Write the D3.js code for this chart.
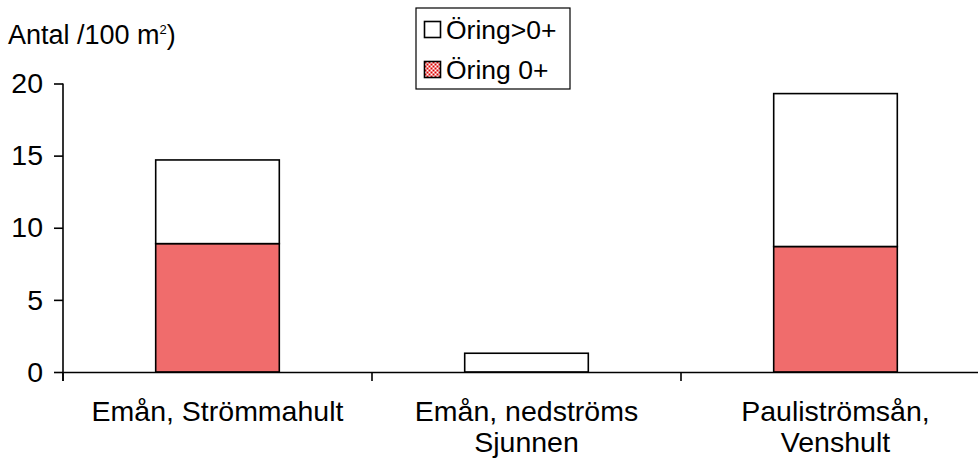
<!DOCTYPE html>
<html><head><meta charset="utf-8">
<script src="https://cdn.jsdelivr.net/npm/d3@7"></script>
<style>
html,body{margin:0;padding:0;background:#fff;}
svg{display:block;font-family:"Liberation Sans",Arial,sans-serif;}
</style></head>
<body><svg id="c" width="978" height="459"></svg>
<script>
const categories = [["Emån, Strömmahult"], ["Emån, nedströms", "Sjunnen"], ["Pauliströmsån,", "Venshult"]];
const catKeys = ["A", "B", "C"];
const seriesNames = ["Öring 0+", "Öring>0+"];
const young = [8.9, 0, 8.7];      // Öring 0+
const older = [5.8, 1.3, 10.6];   // Öring>0+ (stacked on top)
const yTicks = [0, 5, 10, 15, 20];
const yLabel = "Antal /100 m";

const svg = d3.select("#c");
const fs = 28.5;
const lfs = 26.5;
const x = d3.scaleBand().domain(catKeys).range([63, 990]).paddingInner(0).paddingOuter(0);
const y = d3.scaleLinear().domain([0, 20]).range([372, 83.5]);

const data = catKeys.map((k,i)=>({key:k, a:young[i], b:older[i]}));
const stack = d3.stack().keys(["a","b"])(data);
const bw = x.bandwidth()*0.4;
const fills = ["#f06c6c", "#ffffff"];

stack.forEach((layer, li) => {
  svg.append("g").selectAll("rect").data(layer.filter(d=>d[1]-d[0]>0)).join("rect")
    .attr("x", d => x(d.data.key) + (x.bandwidth()-bw)/2)
    .attr("y", d => y(d[1]))
    .attr("width", bw)
    .attr("height", d => y(d[0]) - y(d[1]))
    .attr("fill", fills[li])
    .attr("stroke", "#000").attr("stroke-width", 1.6);
});

// Y axis
const ya = svg.append("g").attr("transform","translate(63,0)")
  .call(d3.axisLeft(y).tickValues(yTicks).tickSize(9).tickPadding(11).tickSizeOuter(0));
ya.select(".domain").attr("stroke","#000").attr("stroke-width",1.6).attr("d","M0,381V83.5");
ya.selectAll(".tick line").attr("stroke","#000").attr("stroke-width",1.6);
ya.selectAll(".tick text").attr("font-size",fs).attr("font-family","Liberation Sans, Arial, sans-serif").attr("fill","#000");

// X axis
const xa = svg.append("g").attr("transform","translate(0,372)")
  .call(d3.axisBottom(x).tickSize(0).tickFormat(""));
xa.select(".domain").attr("stroke","#000").attr("stroke-width",1.6);
xa.selectAll(".tick").remove();
const bounds = [63, ...catKeys.map(k=>x(k)+x.bandwidth())];
xa.selectAll("line.sep").data(bounds).join("line").attr("class","sep")
  .attr("x1",d=>d).attr("x2",d=>d).attr("y1",0).attr("y2",9)
  .attr("stroke","#000").attr("stroke-width",1.6);

// Category labels
catKeys.forEach((k,i)=>{
  const t = svg.append("text").attr("x", x(k)+x.bandwidth()/2).attr("y", 421)
    .attr("text-anchor","middle").attr("font-size",fs).attr("fill","#000");
  categories[i].forEach((line,j)=>{
    t.append("tspan").attr("x", x(k)+x.bandwidth()/2).attr("dy", j===0?0:31).text(line);
  });
});

// Y label
const yl = svg.append("text").attr("x",8).attr("y",44).attr("font-size",27).attr("fill","#000");
yl.append("tspan").text(yLabel);
yl.append("tspan").attr("font-size",13).attr("dy",-10).text("2");
yl.append("tspan").attr("dy",10).text(")");

// Legend
const lg = svg.append("g");
lg.append("rect").attr("x",416).attr("y",8).attr("width",154).attr("height",81)
  .attr("fill","#fff").attr("stroke","#000").attr("stroke-width",1.2);
const legItems = [{name:seriesNames[1], fill:"#fff", checker:false}, {name:seriesNames[0], fill:"#ffffff", checker:true}];
legItems.forEach((d,i)=>{
  const top = 21 + i*40;
  lg.append("rect").attr("x",424.5).attr("y",top+0.5).attr("width",16).attr("height",16)
    .attr("fill",d.fill);
  if (d.checker) {
    const cells = [];
    for (let r=0; r<8; r++) for (let c=0; c<8; c++) if ((r+c)%2===0) cells.push([c,r]);
    lg.append("g").selectAll("rect").data(cells).join("rect")
      .attr("x", p => 424.5 + p[0]*2).attr("y", p => top + 0.5 + p[1]*2)
      .attr("width",2).attr("height",2).attr("fill","#e00000");
  }
  lg.append("rect").attr("x",424.5).attr("y",top+0.5).attr("width",16).attr("height",16)
    .attr("fill","none").attr("stroke","#000").attr("stroke-width",1.6);
  lg.append("text").attr("x",446).attr("y",top+18).attr("font-size",lfs).attr("fill","#000").text(d.name);
});
</script></body></html>
